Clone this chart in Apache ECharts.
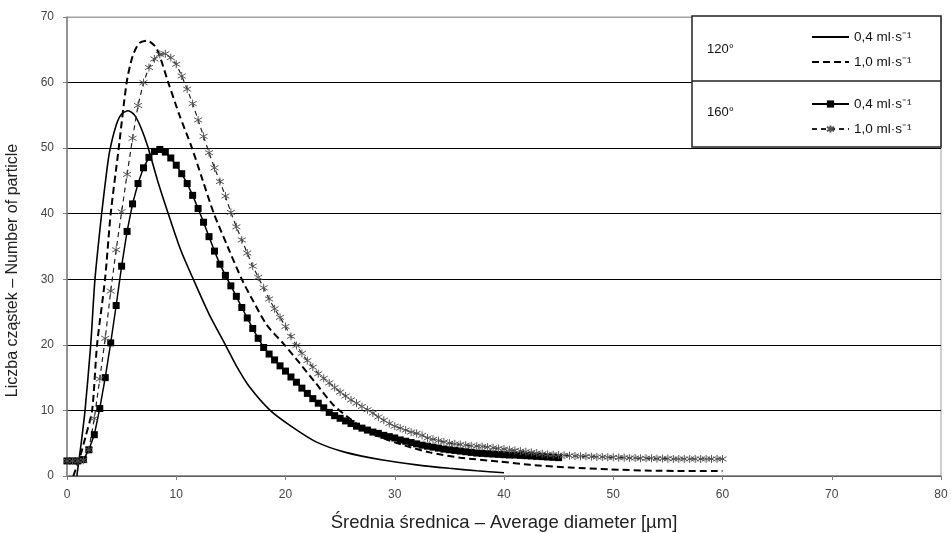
<!DOCTYPE html>
<html>
<head>
<meta charset="utf-8">
<title>Liczba cząstek</title>
<script src="https://cdn.jsdelivr.net/npm/echarts@6/dist/echarts.min.js"></script>
<style>
  html, body { margin: 0; padding: 0; background: #fff; }
  #chart { width: 951px; height: 533px; }
</style>
</head>
<body>
<div id="chart"></div>
<script>
// 120° - 0,4 ml/s (solid, no markers)
const solid120 = [
  [0.9, 0], [1.3, 5], [1.65, 10], [2.17, 20], [2.56, 30], [3.17, 40], [3.6, 46], [3.9, 49.5],
  [4.5, 53.5], [5.0, 55.2], [5.6, 55.7], [6.2, 55], [6.8, 53], [7.4, 50.2], [8.3, 45],
  [9.27, 40], [10.4, 34.5], [11.56, 30], [13, 24.7], [14.5, 20], [15.5, 16.8], [16.7, 13.6],
  [18.6, 10], [20.5, 7.6], [22.8, 5.2], [25.5, 3.6], [28.9, 2.44], [32, 1.7], [35, 1.17],
  [37.5, 0.8], [40, 0.5]
]
// 120° - 1,0 ml/s (dashed, no markers)
const dashed120 = [
  [0.58, 0], [1.2, 3], [1.7, 6], [2.3, 10], [2.75, 20], [3.48, 30], [4.0, 40], [4.7, 49.5],
  [5.46, 60], [6.0, 64], [6.6, 66], [7.35, 66.4], [8.2, 65.2], [9.27, 60], [10.3, 55],
  [11.4, 50.2], [12.4, 45.2], [13.45, 40], [14.7, 35], [16.0, 30], [17.0, 26.8], [18.3, 23.0],
  [19.8, 20.2], [21.3, 17.2], [22.8, 14.1], [24.4, 10.8], [26.5, 8.0], [28.6, 6.0], [31, 4.6],
  [33.2, 3.6], [36, 2.8], [39.6, 2.2], [42.4, 1.7], [46, 1.3], [49.7, 1.0], [54, 0.8], [60, 0.76]
]
// 160° series are sampled every 0,5 µm starting at 0
const step160 = 0.5
const squares160 = [
  2.3, 2.3, 2.3, 2.5, 4.0, 6.3, 10.3, 15.0, 20.3, 26.0,
  32.0, 37.3, 41.5, 44.6, 47.0, 48.6, 49.5, 49.8, 49.4, 48.5,
  47.4, 46.1, 44.6, 42.8, 40.8, 38.7, 36.5, 34.3, 32.3, 30.6,
  29.0, 27.4, 25.7, 24.1, 22.5, 21.0, 19.6, 18.6, 17.7, 16.8,
  16.0, 15.1, 14.3, 13.4, 12.6, 11.8, 11.1, 10.4, 9.7, 9.2,
  8.8, 8.4, 8.0, 7.6, 7.3, 7.0, 6.7, 6.5, 6.2, 6.0,
  5.8, 5.5, 5.3, 5.1, 4.9, 4.7, 4.55, 4.4, 4.25, 4.1,
  4.0, 3.9, 3.8, 3.7, 3.6, 3.5, 3.45, 3.4, 3.35, 3.3,
  3.25, 3.2, 3.2, 3.15, 3.1, 3.05, 3.0, 2.95, 2.9, 2.85, 2.8
]
const stars160 = [
  2.3, 2.3, 2.3, 2.4, 4.0, 8.8, 14.8, 21.0, 28.2, 34.5,
  40.3, 46.0, 51.5, 56.5, 60.0, 62.3, 63.6, 64.3, 64.4, 63.8,
  62.8, 61.0, 59.0, 56.8, 54.3, 51.8, 49.3, 47.0, 44.9, 42.7,
  40.2, 38.0, 36.0, 34.0, 32.0, 30.3, 28.7, 27.0, 25.5, 24.2,
  22.8, 21.3, 19.9, 18.7, 17.6, 16.6, 15.6, 14.9, 14.2, 13.5,
  12.8, 12.2, 11.6, 11.1, 10.6, 10.1, 9.6, 9.0, 8.5, 8.0,
  7.6, 7.3, 7.0, 6.7, 6.5, 6.2, 5.8, 5.6, 5.4, 5.2,
  5.0, 4.9, 4.8, 4.7, 4.6, 4.55, 4.5, 4.4, 4.3, 4.2,
  4.1, 4.0, 3.9, 3.8, 3.7, 3.6, 3.5, 3.4, 3.3, 3.25,
  3.2, 3.15, 3.1, 3.05, 3.0, 3.0, 2.95, 2.9, 2.9, 2.85,
  2.85, 2.8, 2.8, 2.75, 2.75, 2.7, 2.7, 2.7, 2.65, 2.65,
  2.65, 2.6, 2.6, 2.6, 2.6, 2.6, 2.6, 2.6, 2.6, 2.6, 2.6
]
const xTicks = [0, 10, 20, 30, 40, 50, 60, 70, 80]
const yTicks = [0, 10, 20, 30, 40, 50, 60, 70]

const FONT = '"Liberation Sans", Arial, sans-serif'
const STAR = 'path://M0,-5L0,5M-4.5,-2.8L4.5,2.8M-4.5,2.8L4.5,-2.8'

function withX(values) {
  return values.map((v, i) => [i * step160, v])
}

function legendBlock(top, items) {
  return {
    orient: 'vertical',
    left: 806,
    top: top,
    itemWidth: 37,
    itemHeight: 9,
    itemGap: 11,
    z: 20,
    selectedMode: false,
    data: items,
    formatter: name => name.split('|')[1] + ' ml·s⁻¹',
    textStyle: { fontSize: 13.5, color: '#111', fontFamily: FONT }
  }
}

const chart = echarts.init(document.getElementById('chart'), null, { renderer: 'canvas' })

chart.setOption({
  animation: false,
  backgroundColor: '#fff',
  textStyle: { fontFamily: FONT },
  grid: {
    left: 67,
    right: 10,
    top: 17,
    bottom: 57,
    outerBoundsMode: 'none',
    containLabel: false,
    show: true,
    borderColor: '#a0a0a0',
    borderWidth: 1
  },
  xAxis: {
    type: 'value',
    min: xTicks[0],
    max: xTicks[xTicks.length - 1],
    interval: 10,
    name: 'Średnia średnica – Average diameter [µm]',
    nameLocation: 'middle',
    nameGap: 37,
    nameTextStyle: { fontSize: 18.5, color: '#222', fontFamily: FONT },
    axisLine: { lineStyle: { color: '#808080', width: 1.5 } },
    axisTick: { show: true, length: 4, lineStyle: { color: '#808080' } },
    axisLabel: { color: '#444', fontSize: 12, margin: 13, fontFamily: FONT },
    splitLine: { show: false }
  },
  yAxis: {
    type: 'value',
    min: yTicks[0],
    max: yTicks[yTicks.length - 1],
    interval: 10,
    name: 'Liczba cząstek – Number of particle',
    nameLocation: 'middle',
    nameGap: 46,
    nameTextStyle: { fontSize: 16, color: '#222', fontFamily: FONT, padding: [0, 48, 0, 0] },
    axisLine: { show: true, lineStyle: { color: '#808080', width: 1.5 } },
    axisTick: { show: true, length: 4, lineStyle: { color: '#808080' } },
    axisLabel: { color: '#444', fontSize: 12, margin: 13, fontFamily: FONT },
    splitLine: {
      show: true,
      lineStyle: { color: ['#000', '#000', '#000', '#000', '#000', '#000', '#000', '#a0a0a0'], width: 1 }
    }
  },
  legend: [
    legendBlock(25, [
      { name: '120|0,4', itemStyle: { opacity: 0 } },
      { name: '120|1,0', itemStyle: { opacity: 0 } }
    ]),
    legendBlock(92, ['160|0,4', '160|1,0'])
  ],
  graphic: [
    {
      type: 'rect',
      shape: { x: 692, y: 16, width: 249, height: 131 },
      style: { fill: '#fff', stroke: '#222', lineWidth: 1.5 },
      z: 2,
      silent: true
    },
    {
      type: 'line',
      shape: { x1: 692, y1: 81, x2: 941, y2: 81 },
      style: { stroke: '#222', lineWidth: 1.5 },
      z: 3,
      silent: true
    },
    {
      type: 'text',
      left: 707,
      top: 43,
      style: { text: '120°', fill: '#111', font: '13px ' + FONT },
      z: 3
    },
    {
      type: 'text',
      left: 707,
      top: 106,
      style: { text: '160°', fill: '#111', font: '13px ' + FONT },
      z: 3
    }
  ],
  series: [
    {
      name: '120|0,4',
      type: 'line',
      data: solid120,
      smooth: 0.25,
      symbol: 'none',
      lineStyle: { color: '#000', width: 1.6 },
      itemStyle: { color: '#000' },
      z: 5
    },
    {
      name: '120|1,0',
      type: 'line',
      data: dashed120,
      smooth: 0.25,
      symbol: 'none',
      lineStyle: { color: '#000', width: 2, type: [7, 4] },
      itemStyle: { color: '#000' },
      z: 5
    },
    {
      name: '160|0,4',
      type: 'line',
      data: withX(squares160),
      symbol: 'rect',
      symbolSize: 7,
      showAllSymbol: true,
      lineStyle: { color: '#000', width: 1.5 },
      itemStyle: { color: '#000' },
      z: 6
    },
    {
      name: '160|1,0',
      type: 'line',
      data: withX(stars160),
      symbol: STAR,
      symbolSize: 8,
      showAllSymbol: true,
      lineStyle: { color: '#222', width: 1.2, type: [5, 4] },
      itemStyle: { color: '#555', borderColor: '#555', borderWidth: 1 },
      z: 6
    }
  ]
})
</script>
</body>
</html>
